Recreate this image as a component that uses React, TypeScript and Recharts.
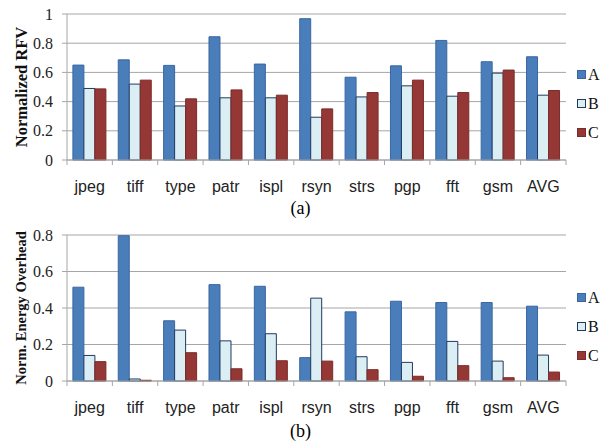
import { BarChart, Bar, XAxis, YAxis, CartesianGrid } from "recharts";

const categories = ["jpeg", "tiff", "type", "patr", "ispl", "rsyn", "strs", "pgp", "fft", "gsm", "AVG"];

// (a) Normalized RFV
const rfvA = [0.65, 0.686, 0.648, 0.844, 0.657, 0.968, 0.567, 0.645, 0.819, 0.673, 0.707];
const rfvB = [0.49, 0.52, 0.37, 0.426, 0.426, 0.293, 0.432, 0.508, 0.437, 0.595, 0.444];
const rfvC = [0.487, 0.547, 0.419, 0.48, 0.444, 0.35, 0.462, 0.547, 0.462, 0.616, 0.476];
const rfvTicks = [0, 0.2, 0.4, 0.6, 0.8, 1];

// (b) Normalized energy overhead
const energyA = [0.514, 0.796, 0.33, 0.528, 0.519, 0.128, 0.379, 0.437, 0.43, 0.43, 0.41];
const energyB = [0.14, 0.011, 0.279, 0.22, 0.259, 0.454, 0.133, 0.102, 0.217, 0.109, 0.142];
const energyC = [0.106, 0.004, 0.155, 0.067, 0.111, 0.109, 0.062, 0.026, 0.084, 0.018, 0.049];
const energyTicks = [0, 0.2, 0.4, 0.6, 0.8];

const SERIES = [
  { key: "A", fill: "#4a7ebb", stroke: "#3a66a0" },
  { key: "B", fill: "#dbeef4", stroke: "#1f3a5f" },
  { key: "C", fill: "#953735", stroke: "#7a2c2a" },
];

const W = 601;
const H = 200;
const MARGIN = { top: 14, right: 35, bottom: 0, left: 12 };
const Y_W = 55;
const PLOT_W = W - MARGIN.left - MARGIN.right - Y_W;
const BAND = PLOT_W / categories.length;
const GRID = "#a6a6a6";
const SERIF = "'Liberation Serif', 'DejaVu Serif', serif";
const SANS = "'Liberation Sans', Arial, sans-serif";

function buildRows(a: number[], b: number[], c: number[]) {
  return categories.map((name, i) => ({ name, A: a[i], B: b[i], C: c[i] }));
}

// x labels centred, tick marks at the category boundaries
function CategoryTick(props: any) {
  const { x, y, payload, index } = props;
  const last = index === categories.length - 1;
  return (
    <g>
      <line x1={x - BAND / 2} x2={x - BAND / 2} y1={y - 8} y2={y - 3} stroke={GRID} />
      {last && <line x1={x + BAND / 2} x2={x + BAND / 2} y1={y - 8} y2={y - 3} stroke={GRID} />}
      <text x={x} y={y + 24} textAnchor="middle" fontFamily={SANS} fontSize={16} fill="#222">
        {payload.value}
      </text>
    </g>
  );
}

function SideLegend({ top }: { top: number }) {
  return (
    <div style={{ position: "absolute", left: 577, top, fontFamily: SERIF, fontSize: 16, color: "#111" }}>
      {SERIES.map((s) => (
        <div key={s.key} style={{ display: "flex", alignItems: "center", height: 29 }}>
          <span
            style={{
              display: "inline-block",
              width: 7,
              height: 7,
              background: s.fill,
              border: `1px solid ${s.stroke}`,
              marginRight: 2,
            }}
          />
          {s.key}
        </div>
      ))}
    </div>
  );
}

function Panel(props: { rows: any[]; ticks: number[]; label: string; labelSize: number }) {
  const { rows, ticks, label, labelSize } = props;
  return (
    <BarChart width={W} height={H} data={rows} margin={MARGIN} barGap={0} barCategoryGap="13%">
      <CartesianGrid vertical={false} stroke={GRID} />
      <XAxis
        dataKey="name"
        axisLine={{ stroke: GRID }}
        tickLine={false}
        interval={0}
        height={40}
        tick={<CategoryTick />}
      />
      <YAxis
        width={Y_W}
        domain={[ticks[0], ticks[ticks.length - 1]]}
        ticks={ticks}
        interval={0}
        axisLine={{ stroke: GRID }}
        tickLine={{ stroke: GRID }}
        tickSize={5}
        tickMargin={9}
        tick={{ fontFamily: SERIF, fontSize: 16, fill: "#222" }}
        label={{
          value: label,
          angle: -90,
          position: "insideLeft",
          offset: 9,
          style: {
            textAnchor: "middle",
            fontFamily: SERIF,
            fontWeight: "bold",
            fontSize: labelSize,
            fill: "#111",
          },
        }}
      />
      {SERIES.map((s) => (
        <Bar
          key={s.key}
          dataKey={s.key}
          fill={s.fill}
          stroke={s.stroke}
          strokeWidth={1}
          isAnimationActive={false}
        />
      ))}
    </BarChart>
  );
}

export default function App() {
  return (
    <div
      style={{
        position: "absolute",
        left: 0,
        top: 0,
        width: W,
        height: 447,
        background: "#fff",
        overflow: "hidden",
      }}
    >
      <div style={{ position: "absolute", left: 0, top: 0 }}>
        <Panel rows={buildRows(rfvA, rfvB, rfvC)} ticks={rfvTicks} label="Normalized RFV" labelSize={16.5} />
      </div>
      <SideLegend top={60} />
      <div
        style={{ position: "absolute", left: 0, top: 198, width: W, textAlign: "center", fontFamily: SERIF, fontSize: 18 }}
      >
        (a)
      </div>
      <div style={{ position: "absolute", left: 0, top: 221 }}>
        <Panel
          rows={buildRows(energyA, energyB, energyC)}
          ticks={energyTicks}
          label="Norm. Energy Overhead"
          labelSize={14.5}
        />
      </div>
      <SideLegend top={283} />
      <div
        style={{ position: "absolute", left: 0, top: 421, width: W, textAlign: "center", fontFamily: SERIF, fontSize: 18 }}
      >
        (b)
      </div>
    </div>
  );
}
